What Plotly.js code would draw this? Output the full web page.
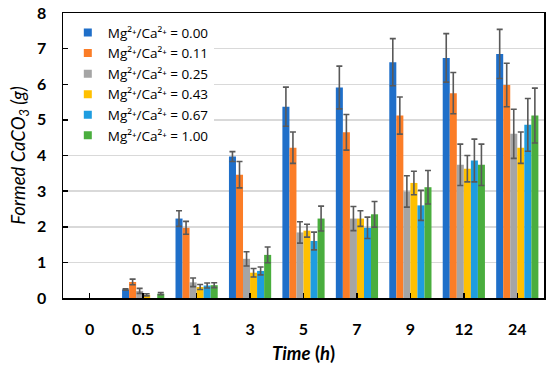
<!DOCTYPE html>
<html>
<head>
<meta charset="utf-8">
<script src="https://cdn.plot.ly/plotly-3.0.1.min.js"></script>
<style>html,body{margin:0;padding:0;background:#fff;}#chart{width:550px;height:370px;}</style>
</head>
<body>
<div id="chart"></div>
<script>
const times = ['0', '0.5', '1', '3', '5', '7', '9', '12', '24'];
const seriesNames = ['0.00', '0.11', '0.25', '0.43', '0.67', '1.00'];
const r000 = [null, 0.24, 2.23, 3.97, 5.37, 5.91, 6.62, 6.74, 6.85];
const e000 = [null, 0.02, 0.22, 0.14, 0.55, 0.60, 0.66, 0.68, 0.69];
const r011 = [null, 0.45, 1.97, 3.46, 4.22, 4.65, 5.12, 5.75, 5.98];
const e011 = [null, 0.08, 0.18, 0.37, 0.44, 0.50, 0.52, 0.58, 0.61];
const r025 = [null, 0.20, 0.44, 1.10, 1.84, 2.23, 2.99, 3.74, 4.61];
const e025 = [null, 0.07, 0.12, 0.20, 0.30, 0.34, 0.44, 0.58, 0.69];
const r043 = [null, 0.09, 0.31, 0.71, 1.89, 2.23, 3.23, 3.63, 4.22];
const e043 = [null, 0.03, 0.07, 0.12, 0.18, 0.22, 0.33, 0.37, 0.44];
const r067 = [null, null, 0.35, 0.76, 1.60, 1.97, 2.60, 3.86, 4.86];
const e067 = [null, null, 0.07, 0.11, 0.25, 0.30, 0.42, 0.60, 0.74];
const r100 = [null, 0.12, 0.36, 1.21, 2.23, 2.35, 3.11, 3.74, 5.12];
const e100 = [null, 0.03, 0.07, 0.22, 0.35, 0.36, 0.47, 0.58, 0.77];

const values = [r000, r011, r025, r043, r067, r100];
const errors = [e000, e011, e025, e043, e067, e100];
const colors = ['#1f6fc9', '#fb7d27', '#a5a5a5', '#ffc000', '#1e9de0', '#4aae3e'];

const traces = [];
values.forEach((v, i) => {
  traces.push({
    type: 'bar', x: times, y: v, name: 'Mg²⁺/Ca²⁺ = ' + seriesNames[i],
    marker: {color: colors[i], line: {width: 0}},
    error_y: {type: 'data', array: errors[i], visible: true, color: '#595959', thickness: 1.6, width: 3},
    showlegend: false, hoverinfo: 'y'
  });
});
values.forEach((v, i) => {
  traces.push({
    type: 'scatter', mode: 'markers', x: [null], y: [null],
    name: 'Mg²⁺/Ca²⁺ = ' + seriesNames[i],
    marker: {color: colors[i], symbol: 'square', size: 8}, showlegend: true
  });
});

const layout = {
  width: 550, height: 370,
  margin: {l: 63, r: 6, t: 13, b: 72},
  paper_bgcolor: '#fff', plot_bgcolor: '#fff',
  barmode: 'group', bargap: 0.21, bargroupgap: 0,
  font: {family: 'Lato, "Open Sans", sans-serif', color: '#000'},
  xaxis: {
    type: 'category', categoryarray: times, categoryorder: 'array',
    showgrid: false, zeroline: false,
    showline: true, linecolor: '#000', linewidth: 1.5, mirror: true,
    ticks: 'inside', ticklen: 5, tickcolor: '#000', tickwidth: 1.5,
    tickfont: {size: 16, family: 'Lato', weight: 'bold'},
    ticklabelstandoff: 16,
    title: {text: '<b><i>Time</i> (<i>h</i>)</b>', font: {size: 18.5, family: 'Lato'}, standoff: 10}
  },
  yaxis: {
    range: [0, 8], dtick: 1, showgrid: true, gridcolor: '#d9d9d9', gridwidth: 1.5,
    zeroline: false, showline: true, linecolor: '#000', linewidth: 1.5, mirror: true,
    ticks: 'inside', ticklen: 5, tickcolor: '#000', tickwidth: 1.5,
    tickfont: {size: 16, family: 'Lato', weight: 'bold'},
    ticklabelstandoff: 12,
    title: {text: '<i>Formed CaCO<sub>3</sub> (g)</i>', font: {size: 18.5, family: 'Lato'}, standoff: 6}
  },
  legend: {
    x: 0.01, y: 0.985, xanchor: 'left', yanchor: 'top',
    bgcolor: '#fff', borderwidth: 0, tracegroupgap: 0,
    font: {size: 13.5, family: '"Open Sans"'}, itemwidth: 30
  }
};

Plotly.newPlot('chart', traces, layout, {displayModeBar: false, staticPlot: true});
</script>
</body>
</html>
